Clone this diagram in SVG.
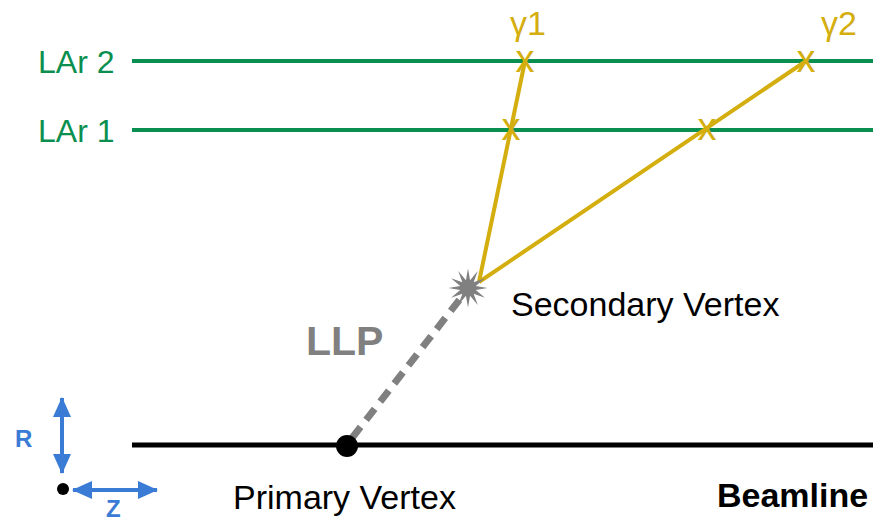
<svg xmlns="http://www.w3.org/2000/svg" width="880" height="522" viewBox="0 0 880 522">
<defs>
<style>
.lar{stroke:#0a8f50;stroke-width:4;fill:none}
.larT{fill:#0a8f50;font-family:"Liberation Sans",Arial,sans-serif;font-size:32px}
.trk{stroke:#d4ae0e;stroke-width:4;fill:none}
.yT{fill:#d4ae0e;font-family:"Liberation Sans",Arial,sans-serif}
.hit{fill:#d4ae0e;font-family:"Liberation Sans",Arial,sans-serif;font-size:38px;text-anchor:middle}
.lbl{fill:#000;font-family:"Liberation Sans",Arial,sans-serif;font-size:34px}
.ax{stroke:#3a7bd5;stroke-width:4;fill:none}
.axT{fill:#3a7bd5;font-family:"Liberation Sans",Arial,sans-serif;font-size:24px;font-weight:bold}
</style>
<marker id="ah" viewBox="0 0 20 18" refX="19" refY="9" markerWidth="20" markerHeight="18" orient="auto-start-reverse" markerUnits="userSpaceOnUse">
<path d="M0,0 L20,9 L0,18 z" fill="#3a7bd5"/>
</marker>
</defs>
<rect width="880" height="522" fill="#fff"/>
<g id="lar2">
<line class="lar" x1="132" y1="61" x2="873" y2="61"/>
<text class="larT" x="38" y="73">LAr 2</text>
</g>
<g id="lar1">
<line class="lar" x1="132" y1="130" x2="873" y2="130"/>
<text class="larT" x="38" y="142">LAr 1</text>
</g>
<g id="beamline">
<line x1="132" y1="445" x2="873" y2="445" stroke="#000" stroke-width="5"/>
<text class="lbl" x="717" y="507" font-weight="bold" font-size="33">Beamline</text>
</g>
<g id="connectors">
<line x1="352" y1="438" x2="460" y2="299" stroke="#808080" stroke-width="7" stroke-dasharray="14 9"/>
<line class="trk" x1="479" y1="282" x2="525" y2="61"/>
<line class="trk" x1="479" y1="282" x2="806" y2="61"/>
</g>
<g id="primary-vertex">
<circle cx="347" cy="446" r="11" fill="#000"/>
<text class="lbl" x="233" y="509">Primary Vertex</text>
</g>
<g id="secondary-vertex">
<polygon fill="#808080" transform="translate(468,288) scale(1.15) translate(-468,-287)" points="468,270 469.8,280.2 476.5,272.3 472.9,282.1 482.7,278.5 474.8,285.2 485,287 474.8,288.8 482.7,295.5 472.9,291.9 476.5,301.7 469.8,293.8 468,304 466.2,293.8 459.5,301.7 463.1,291.9 453.3,295.5 461.2,288.8 451,287 461.2,285.2 453.3,278.5 463.1,282.1 459.5,272.3 466.2,280.2"/>
<text class="lbl" x="511" y="316">Secondary Vertex</text>
</g>
<g id="llp">
<text x="306" y="355" fill="#808080" font-family="Liberation Sans,Arial,sans-serif" font-size="41" font-weight="bold">LLP</text>
</g>
<g id="gamma1">
<text class="yT" x="510" y="35" font-size="34">γ1</text>
<text class="hit" x="525" y="72">x</text>
<text class="hit" x="511" y="140">x</text>
</g>
<g id="gamma2">
<text class="yT" x="821" y="35" font-size="34">γ2</text>
<text class="hit" x="806" y="72">x</text>
<text class="hit" x="707" y="140">x</text>
</g>
<g id="axes">
<line class="ax" x1="62" y1="398" x2="62" y2="473" marker-start="url(#ah)" marker-end="url(#ah)"/>
<line class="ax" x1="73" y1="490" x2="157" y2="490" marker-start="url(#ah)" marker-end="url(#ah)"/>
<circle cx="63" cy="489" r="6" fill="#000"/>
<text class="axT" x="15" y="447">R</text>
<text class="axT" x="106" y="517">Z</text>
</g>
</svg>
